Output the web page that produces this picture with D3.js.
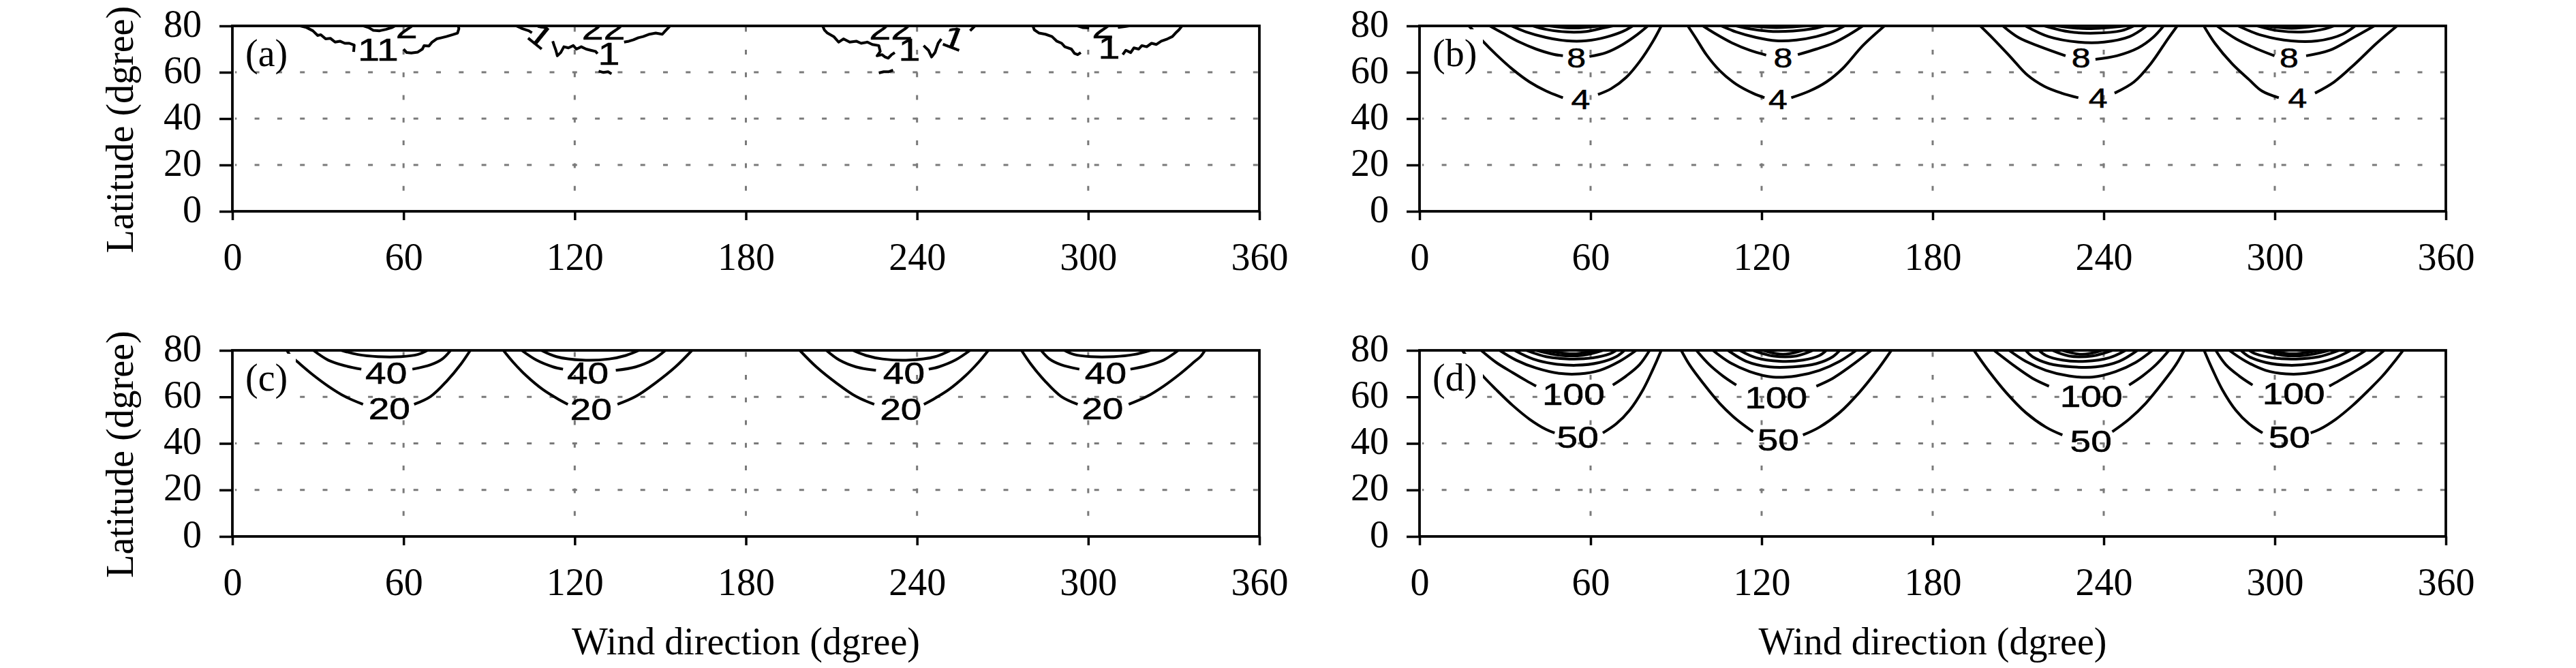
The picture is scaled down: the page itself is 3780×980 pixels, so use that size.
<!DOCTYPE html>
<html><head><meta charset="utf-8">
<script src="https://cdn.jsdelivr.net/npm/d3@7"></script>
<style>
body{margin:0;background:#fff;}
svg{display:block;}
</style></head><body>
<svg id="chart" width="3780" height="980"></svg>
<script>
// ---------------- DATA ----------------
const dirTicks = [0, 60, 120, 180, 240, 300, 360];
const latTicks = [0, 20, 40, 60, 80];
const dirGrid = [60, 120, 180, 240, 300];
const latGrid = [20, 40, 60];
const yTitle = "Latitude (dgree)";
const xTitle = "Wind direction (dgree)";
const panelTags = ["(a)", "(b)", "(c)", "(d)"];

// panel (a): jagged contours (direction, latitude)
const contoursA = [
  {level:1, segs:[
    [[23.8,80],[26,79.3],[28.2,77.9],[29.9,75.9],[31,76.2],[32.7,74.4],[34.4,74.6],[36,73],[37.7,73.4],[39.4,72.5],[41,72.5],[42.7,71.7],[42.5,68.8]],
    [[60,70],[61.1,68.5],[62.7,68.3],[65,68.7],[66.6,70],[67.2,71.5],[68.9,71.3],[70,73],[71.6,74.4],[73.3,74.9],[75,75.4],[77.2,76.2],[78.9,76.9],[79.4,78.8],[79.2,80]]
  ]},
  {level:2, segs:[
    [[46,80],[47.7,79.3],[49.4,78.1],[51.6,77.9],[53.8,78.5],[56,79.3],[57,80]]
  ]},
  {level:1, segs:[
    [[99.5,80],[101.7,78.8],[103.9,77.9],[105,77]],
    [[112.3,73.4],[112.8,71.5],[113.4,69.5],[113.9,67.1],[115.1,68.5],[116.2,71],[117.8,70.5],[119.5,71.5],[120.6,70],[122.3,71],[124,70],[125.6,69.5],[127.3,69],[128,68]],
    [[137.3,73],[139,73.4],[140.6,74],[142.3,74.9],[144,75.4],[146.2,76.4],[148.4,76.9],[150.7,76.4],[151.8,77.9],[152.9,79.3],[153.4,80]],
    [[128.4,60.5],[130.1,59.9],[131.7,60.2],[132.9,59.3]]
  ]},
  {level:1, segs:[
    [[206.9,80],[207.5,78.3],[208.6,76.9],[210.8,75.4],[212.5,73],[214.2,74.4],[216.4,73],[218.7,73.4],[220.4,72.5],[222.6,73],[224.3,72],[226.6,71.5],[227.1,69],[226,67.1],[227.7,67.6],[228.8,66.6],[229.9,66.1],[231.1,67.6],[232.2,68.5]],
    [[242.3,71.5],[244,69.5],[245.1,66.6],[246.3,68.5],[247.4,72.5],[248.5,74.4]],
    [[258.6,77.9],[260.3,80]],
    [[226.6,59.7],[228.3,60.2],[230,60.2],[231.6,60.9]]
  ]},
  {level:1, segs:[
    [[280.6,80],[281.1,78.3],[282.8,76.9],[285,76.4],[287.3,75.4],[289,73.4],[290.7,72.5],[291.8,71],[294.1,70],[295.2,68.1],[296.3,67.6],[297.4,68.5]],
    [[312.1,67.6],[313.2,69.5],[314.9,68.5],[316,70.5],[317.7,70],[318.8,71.5],[320.5,71],[322.2,72.5],[323.9,72],[325.6,73.4],[327.8,74.4],[329.5,75.4],[330.6,76.9],[331.8,78.3],[332.9,80]]
  ]},
  {level:2, segs:[
    [[296.3,80],[298,79.3],[300.3,79.1]],
    [[310.4,79.3],[313.2,79.8],[314.3,80]]
  ]}
];
const labelsA = [["11",51.1,70,0],["2",61.1,79.5,0],["1",108.1,75.9,39],["22",130.1,79.1,0],["1",132,68,0],
  ["22",230.8,79.1,0],["1",237.3,69.8,0],["1",253,74.9,21],["2",305.1,79.5,0],["1",307.3,70.8,0]];

// panel (b)
const contoursB = [
  {level:4, segs:[[[17.3,80],[20,76.5],[22.2,73.4],[26.9,67.6],[32.7,61.2],[38.6,55.8],[44.4,51.9],[50.3,49]],[[62.6,50.4],[67.2,52.9],[72.5,57.8],[77.2,64.6],[81.9,73.4],[84.8,80]]]},
  {level:8, segs:[[[24.6,80],[29.2,76.9],[35.1,73],[40.9,70],[46.8,67.8],[50.3,67.1]],[[59.6,66.8],[65.5,68.5],[71.3,72],[76,75.9],[80.1,80]]]},
  {level:12, segs:[[[32.2,80],[37.4,77.4],[44.4,75],[51.5,73.6],[58.5,73.6],[65.5,75.2],[71.3,77.6],[74.8,80]]]},
  {level:16, segs:[[[39.8,80],[44.4,78.5],[51.5,77.4],[58.5,77.6],[64.3,79.1],[67.8,80]]]},
  {level:20, segs:[[[45.6,80],[53.8,79.1],[63.7,80]]]},
  {level:4, segs:[[[94.1,80],[97.1,74.4],[100.6,67.6],[105.3,60.7],[111.1,54.8],[117,50.9],[121,49]],[[130.4,49],[136.8,51.9],[142.7,55.8],[148.5,61.7],[155.5,71.5],[163.1,80]]]},
  {level:8, segs:[[[99.4,80],[104.1,76.4],[109.9,72.5],[115.8,69.5],[121.6,67.4]],[[132.7,67.6],[139.2,70],[145,72.5],[150.9,76.4],[155.5,80]]]},
  {level:12, segs:[[[105.8,80],[111.1,77.4],[118.1,75],[125.1,73.6],[132.2,73.9],[139.2,75.4],[145,77.6],[149.1,80]]]},
  {level:16, segs:[[[111.1,80],[117,78.5],[124,77.6],[131,77.8],[138,78.8],[142.1,80]]]},
  {level:20, segs:[[[115.8,80],[125.1,79.3],[135.7,80]]]},
  {level:4, segs:[[[196.7,80],[201.3,74.4],[207.3,66.6],[213.2,58.8],[219.2,53.9],[225.2,51],[231.1,49]],[[243.8,51],[250.6,55.8],[256.5,63.7],[262.5,74.4],[265.8,80]]]},
  {level:8, segs:[[[204.6,80],[210.2,74.9],[217.8,71],[226.6,67.1]],[[237.1,65.6],[244.6,67.1],[252.1,70.5],[257.2,74.9],[261,80]]]},
  {level:12, segs:[[[212.5,80],[220.6,75.4],[231.1,73],[240.1,73],[249.1,75.4],[255.1,80]]]},
  {level:16, segs:[[[219.2,80],[228.2,77.4],[237.1,76.9],[246.1,77.9],[250.6,80]]]},
  {level:20, segs:[[[223.7,80],[234.1,78.8],[247.7,80]]]},
  {level:4, segs:[[[275.1,80],[279,72.5],[285,63.7],[291,56.8],[295.5,51.9],[301.4,49]],[[314.1,51],[320.8,55.8],[328.2,63.7],[335.7,72.5],[342.9,80]]]},
  {level:8, segs:[[[279.7,80],[286.4,74.4],[293.9,70],[299.9,67.1]],[[311,67.1],[319.3,69.5],[326.8,74.4],[334.9,80]]]},
  {level:12, segs:[[[287.1,80],[295.5,75.9],[305.9,73.5],[314.8,73.5],[323.8,76.4],[328.2,80]]]},
  {level:16, segs:[[[293.9,80],[301.4,77.9],[310.3,77.4],[317.8,78.8],[320.8,80]]]},
  {level:20, segs:[[[296.9,80],[305.9,79],[314.8,80]]]}
];
const labelsB = [["4",56.5,48.4,0],["8",55,66.4,0],["4",125.7,48.3,0],["8",127.5,66.4,0],
  ["4",238,49,0],["8",232,66.3,0],["4",308,49,0],["8",305,66.3,0]];

// panel (c)
const contoursC = [
  {level:20, segs:[[[19.1,80],[20.5,77.5],[22.6,75.3],[27.8,69.9],[33.6,64.6],[39.4,60.2],[45.8,56.8]],[[63.7,56.8],[69.5,60.2],[75.3,67],[80,73.9],[83.4,80]]]},
  {level:40, segs:[[[28.4,80],[33.6,75.8],[39.4,73.4],[45.2,71.9]],[[63.1,71.9],[69.5,73.8],[73.6,76.3],[76.5,80]]]},
  {level:60, segs:[[[38.2,80],[44,78.2],[51,77.3],[59.1,77.3],[64.9,78.2],[68.4,80]]]},
  {level:20, segs:[[[95,80],[98.5,74.8],[103.1,69],[108.9,63.1],[114.7,58.7],[117.6,56.8]],[[135,56.8],[141.4,60.2],[148.3,66],[155.3,72.9],[161.1,80]]]},
  {level:40, segs:[[[101.4,80],[106.6,75.8],[112.4,72.9],[115.9,71.9]],[[134.4,71.4],[141.4,72.9],[147.2,75.8],[151.8,80]]]},
  {level:60, segs:[[[108.3,80],[113.6,77.3],[122.8,75.8],[132.1,76.3],[137.9,77.8],[142.5,80]]]},
  {level:20, segs:[[[198.9,80],[204.7,72.9],[211.7,66],[218.6,60.2],[225,56.8]],[[242.4,56.8],[245.3,58.7],[251.1,63.1],[256.9,69],[261.5,74.8],[265,80]]]},
  {level:40, segs:[[[208.2,80],[212.8,75.8],[218.6,72.9],[225.6,71.4]],[[244.1,71.9],[247.6,72.9],[253.4,75.8],[258.6,80]]]},
  {level:60, segs:[[[217.5,80],[222.1,77.8],[227.9,76.3],[237.2,75.8],[246.4,77.3],[251.7,80]]]},
  {level:20, segs:[[[276.6,80],[280,73.9],[284.7,67],[290.5,60.2],[296.3,56.8]],[[314.2,56.8],[320.6,60.2],[326.4,64.6],[332.2,69.9],[337.4,75.3],[339.5,77.5],[340.9,80]]]},
  {level:40, segs:[[[283.5,80],[286.4,76.3],[290.5,73.8],[296.9,71.9]],[[314.8,71.9],[320.6,73.4],[326.4,75.8],[331.6,80]]]},
  {level:60, segs:[[[291.6,80],[295.1,78.2],[300.9,77.3],[309,77.3],[316,78.2],[321.8,80]]]}
];
const labelsC = [["40",53.9,70.4,0],["20",55,55,0],["40",124.6,70.4,0],["20",125.7,54.8,0],
  ["40",235.4,70.4,0],["20",234.3,54.8,0],["40",306.1,70.4,0],["20",305,55,0]];

// panel (d)
const contoursD = [
  {level:50, segs:[[[15,80],[17.5,76],[22.2,69],[26.9,63.1],[32.7,56.3],[38.6,50.4],[44.4,46],[47.4,44.5]],[[64.3,44.5],[69,48.4],[73.7,54.3],[78.4,63.1],[81.9,71.9],[84.8,80]]]},
  {level:100, segs:[[[21.6,80],[26.9,74.8],[32.7,70.4],[37.4,67],[40.9,64.6]],[[67.8,65.1],[72.5,69],[77.2,73.9],[80.7,80]]]},
  {level:150, segs:[[[28.1,80],[33.9,75.8],[40.9,72.4],[49.1,70.1],[56.1,69.9],[63.2,71.4],[70.2,75.3],[76,80]]]},
  {level:200, segs:[[[33.3,80],[39.8,76.3],[46.8,74.3],[55,73.6],[63.2,74.8],[69,77.3],[71.9,80]]]},
  {level:250, segs:[[[37.4,80],[44.4,77.3],[52.6,76.3],[60.8,76.8],[66.7,78.5],[69,80]]]},
  {level:300, segs:[[[40.9,80],[49.1,77.9],[57.3,77.9],[64.3,80]]]},
  {level:350, segs:[[[44.4,80],[53.8,78.5],[62,80]]]},
  {level:50, segs:[[[91.8,80],[94.7,73.8],[99.4,66],[105.3,57.2],[111.1,50.4],[117,45]],[[134.5,43.6],[140.3,47],[147.4,53.3],[154.4,62.1],[160.2,70.9],[165.5,80]]]},
  {level:100, segs:[[[97.1,80],[101.7,73.8],[106.4,69],[111.1,65.1]],[[139.2,64.6],[145,68],[150.9,72.9],[158.5,80]]]},
  {level:150, segs:[[[102.9,80],[108.8,74.8],[115.8,70.9],[124,68.5],[132.2,69],[140.3,71.4],[147.4,75.3],[153.2,80]]]},
  {level:200, segs:[[[108.2,80],[114.6,75.3],[122.8,72.9],[131,72.9],[139.2,74.3],[145,77.3],[147.4,80]]]},
  {level:250, segs:[[[112.3,80],[118.1,76.8],[126.3,75.3],[134.5,75.8],[140.3,77.8],[142.7,80]]]},
  {level:300, segs:[[[117,80],[124,77.6],[132.2,77.6],[138,80]]]},
  {level:350, segs:[[[120.5,80],[127.5,78.3],[134.5,80]]]},
  {level:50, segs:[[[194.5,80],[199.8,70.9],[205.6,62.1],[212.6,53.3],[219.7,47],[225.5,43.6]],[[243,45],[248.9,50.4],[254.7,57.2],[260.6,66],[265.3,73.8],[268.2,80]]]},
  {level:100, segs:[[[201.5,80],[209.1,72.9],[215,68],[220.8,64.6]],[[248.9,65.1],[253.6,69],[258.3,73.8],[262.9,80]]]},
  {level:150, segs:[[[206.8,80],[212.6,75.3],[219.7,71.4],[227.8,69],[236,68.5],[244.2,70.9],[251.2,74.8],[257.1,80]]]},
  {level:200, segs:[[[212.6,80],[215,77.3],[220.8,74.3],[229,72.9],[237.2,72.9],[245.4,75.3],[251.8,80]]]},
  {level:250, segs:[[[217.3,80],[219.7,77.8],[225.5,75.8],[233.7,75.3],[241.9,76.8],[247.7,80]]]},
  {level:300, segs:[[[222,80],[227.8,77.6],[236,77.6],[243,80]]]},
  {level:350, segs:[[[225.5,80],[232.5,78.3],[239.5,80]]]},
  {level:50, segs:[[[275.2,80],[278.1,71.9],[281.6,63.1],[286.3,54.3],[291,48.4],[295.7,44.5]],[[312.6,44.5],[315.6,46],[321.4,50.4],[327.3,56.3],[333.1,63.1],[337.8,69],[342.5,76],[345,80]]]},
  {level:100, segs:[[[279.3,80],[282.8,73.9],[287.5,69],[292.2,65.1]],[[319.1,64.6],[322.6,67],[327.3,70.4],[333.1,74.8],[338.4,80]]]},
  {level:150, segs:[[[284,80],[289.8,75.3],[296.8,71.4],[303.9,69.9],[310.9,70.1],[319.1,72.4],[326.1,75.8],[331.9,80]]]},
  {level:200, segs:[[[288.1,80],[291,77.3],[296.8,74.8],[305,73.6],[313.2,74.3],[320.2,76.3],[326.7,80]]]},
  {level:250, segs:[[[291,80],[293.3,78.5],[299.2,76.8],[307.4,76.3],[315.6,77.3],[322.6,80]]]},
  {level:300, segs:[[[295.7,80],[302.7,77.9],[310.9,77.9],[319.1,80]]]},
  {level:350, segs:[[[298,80],[306.2,78.5],[315.6,80]]]}
];
const labelsD = [["100",54,61.3,0],["50",55.5,42.6,0],["100",125.1,59.7,0],["50",125.8,41.6,0],
  ["100",235.6,60.2,0],["50",235.5,41.1,0],["100",306.6,61.6,0],["50",305.1,42.6,0]];

// ---------------- DRAW ----------------
const svg = d3.select("#chart");
svg.append("rect").attr("width", 3780).attr("height", 980).attr("fill", "#fff");

const SERIF = "'Liberation Serif','Times New Roman',Times,serif";
const SANS = "'Liberation Sans',Arial,Helvetica,sans-serif";

const panels = [
  {tag:panelTags[0], left:341, right:1848, top:38, bottom:310, contours:contoursA, labels:labelsA, smooth:false, fs:46, yT:true, xT:false, box:false},
  {tag:panelTags[1], left:2083, right:3589, top:38, bottom:310, contours:contoursB, labels:labelsB, smooth:true, fs:40, yT:false, xT:false, box:true},
  {tag:panelTags[2], left:341, right:1848, top:514, bottom:787, contours:contoursC, labels:labelsC, smooth:true, fs:44, yT:true, xT:true, box:true},
  {tag:panelTags[3], left:2083, right:3589, top:514, bottom:787, contours:contoursD, labels:labelsD, smooth:true, fs:44, yT:false, xT:true, box:true}
];

panels.forEach((p, i) => {
  const x = d3.scaleLinear().domain([0, 360]).range([p.left, p.right]);
  const y = d3.scaleLinear().domain([0, 80]).range([p.bottom, p.top]);
  const g = svg.append("g");

  const clipId = "clip" + i;
  svg.append("clipPath").attr("id", clipId).append("rect")
    .attr("x", p.left).attr("y", p.top).attr("width", p.right - p.left).attr("height", p.bottom - p.top);

  // grid
  g.selectAll("line.hg").data(latGrid).join("line").attr("class", "hg")
    .attr("x1", p.left + 4).attr("x2", p.right).attr("y1", d => y(d)).attr("y2", d => y(d))
    .attr("stroke", "#7a7a7a").attr("stroke-width", 3.2).attr("stroke-dasharray", "7 26.3").attr("stroke-dashoffset", 4.7);
  g.selectAll("line.vg").data(dirGrid).join("line").attr("class", "vg")
    .attr("x1", d => x(d)).attr("x2", d => x(d)).attr("y1", p.bottom - 4).attr("y2", p.top)
    .attr("stroke", "#7a7a7a").attr("stroke-width", 3).attr("stroke-dasharray", "7 26.3").attr("stroke-dashoffset", 7);

  // contours
  const line = d3.line().x(d => x(d[0])).y(d => y(d[1]))
    .curve(p.smooth ? d3.curveCatmullRom.alpha(0.5) : d3.curveLinear);
  const cg = g.append("g").attr("clip-path", `url(#${clipId})`);
  const segs = p.contours.flatMap(c => c.segs);
  cg.selectAll("path.ct").data(segs).join("path").attr("class", "ct")
    .attr("d", line).attr("fill", "none").attr("stroke", "#000")
    .attr("stroke-width", 4).attr("stroke-linejoin", "round").attr("stroke-linecap", "butt");

  cg.selectAll("text.cl").data(p.labels).join("text").attr("class", "cl")
    .attr("transform", d => `translate(${x(d[1])},${y(d[2])}) rotate(${d[3]}) scale(1.25,1)`)
    .attr("text-anchor", "middle").attr("dy", "0.36em")
    .attr("font-family", SANS).attr("font-size", p.fs).attr("fill", "#000")
    .attr("stroke", "#000").attr("stroke-width", 0.6)
    .text(d => d[0]);

  // label box and tag
  if (p.box) {
    g.append("rect").attr("x", p.left + 4).attr("y", p.top + 5).attr("width", 89).attr("height", 82).attr("fill", "#fff");
  }
  g.append("text").attr("x", p.left + 19).attr("y", p.top + 59)
    .attr("font-family", SERIF).attr("font-size", 56).attr("fill", "#000").text(p.tag);

  // axes
  const ax = g.append("g").attr("transform", `translate(0,${p.bottom})`)
    .call(d3.axisBottom(x).tickValues(dirTicks).tickSize(13).tickSizeOuter(0).tickFormat(d3.format("d")));
  ax.select(".domain").remove();
  ax.selectAll("line").attr("stroke", "#000").attr("stroke-width", 3.5);
  ax.selectAll("text").attr("y", 86).attr("dy", null).attr("font-family", SERIF).attr("font-size", 56).attr("fill", "#000");

  const ay = g.append("g").attr("transform", `translate(${p.left},0)`)
    .call(d3.axisLeft(y).tickValues(latTicks).tickSize(19).tickSizeOuter(0).tickFormat(d3.format("d")));
  ay.select(".domain").remove();
  ay.selectAll("line").attr("stroke", "#000").attr("stroke-width", 3.5);
  ay.selectAll("text").attr("x", -45).attr("dy", null).attr("y", 15).attr("font-family", SERIF).attr("font-size", 56).attr("fill", "#000");

  g.append("rect").attr("x", p.left).attr("y", p.top).attr("width", p.right - p.left).attr("height", p.bottom - p.top)
    .attr("fill", "none").attr("stroke", "#000").attr("stroke-width", 3.8);

  if (p.yT) {
    g.append("text").attr("transform", `translate(195,${(p.top + p.bottom) / 2 + 16}) rotate(-90)`)
      .attr("text-anchor", "middle").attr("font-family", SERIF).attr("font-size", 56).attr("fill", "#000").text(yTitle);
  }
  if (p.xT) {
    g.append("text").attr("x", (p.left + p.right) / 2).attr("y", 960)
      .attr("text-anchor", "middle").attr("font-family", SERIF).attr("font-size", 56).attr("fill", "#000").text(xTitle);
  }
});
</script>
</body></html>
